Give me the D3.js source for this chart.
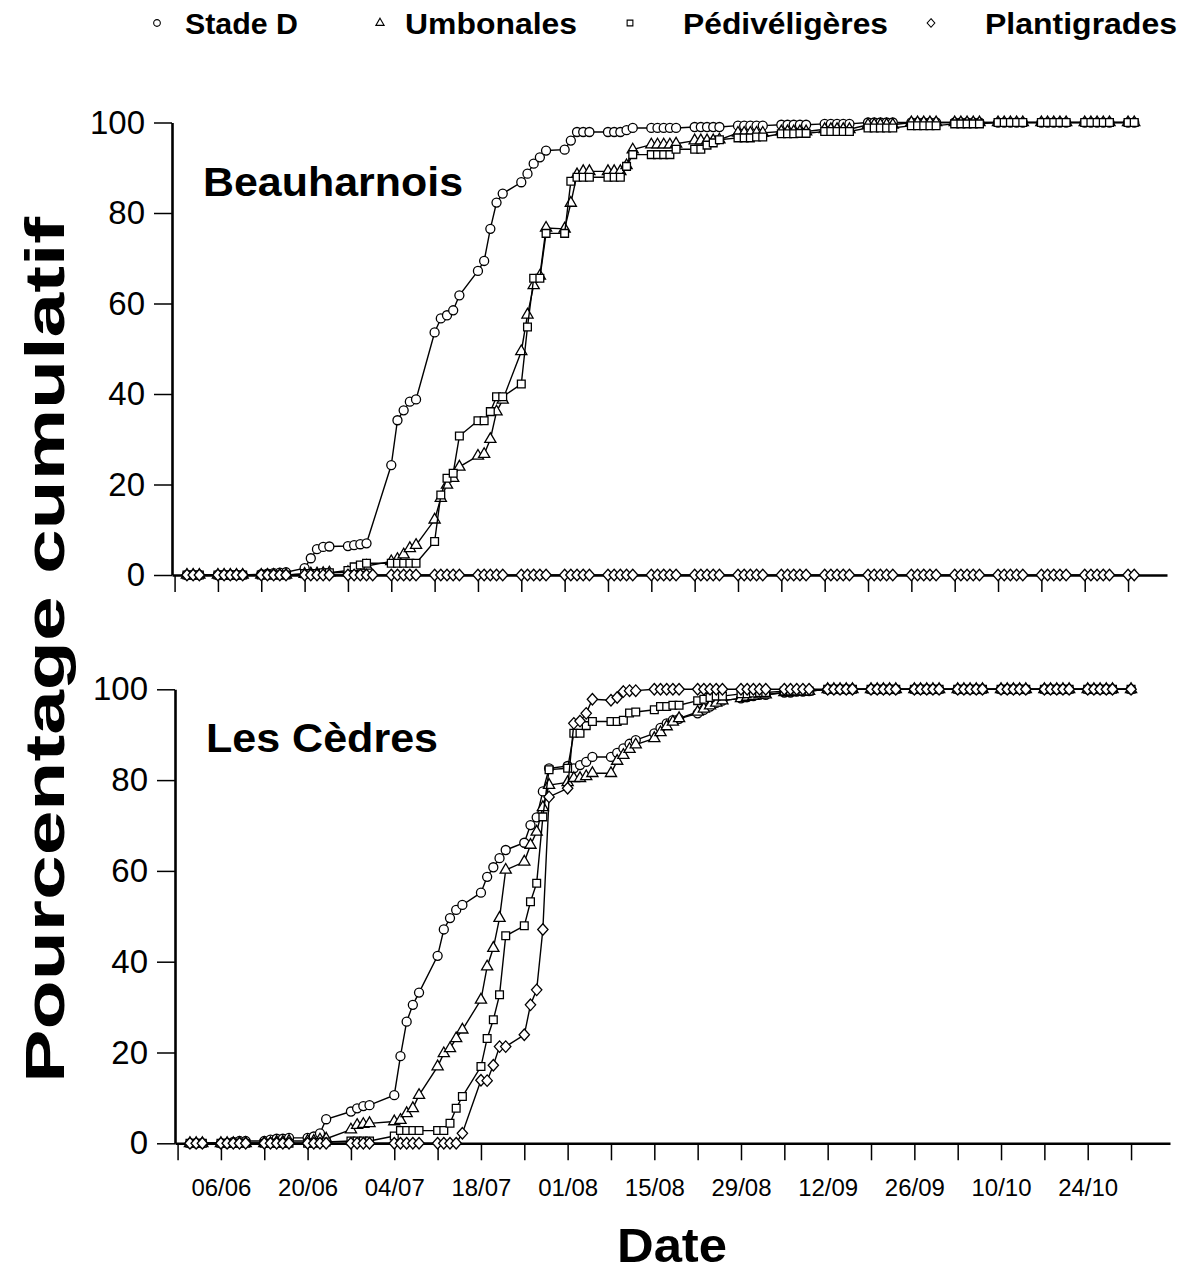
<!DOCTYPE html>
<html>
<head>
<meta charset="utf-8">
<script src="https://cdn.jsdelivr.net/npm/d3@7"></script>
<style>
  body { margin: 0; background: #fff; overflow: hidden; }
  svg { display: block; }
  svg text { font-family: "Liberation Sans", Arial, Helvetica, sans-serif; fill: #000; }
</style>
</head>
<body>
<svg id="chart" width="1188" height="1275"></svg>
<script>
// sampling days (1994, weekdays)
const sampleDates = [
  "01/06","02/06","03/06",
  "06/06","07/06","08/06","09/06","10/06",
  "13/06","14/06","15/06","16/06","17/06",
  "20/06","21/06","22/06","23/06","24/06",
  "27/06","28/06","29/06","30/06","01/07",
  "04/07","05/07","06/07","07/07","08/07",
  "11/07","12/07","13/07","14/07","15/07",
  "18/07","19/07","20/07","21/07","22/07",
  "25/07","26/07","27/07","28/07","29/07",
  "01/08","02/08","03/08","04/08","05/08",
  "08/08","09/08","10/08","11/08","12/08",
  "15/08","16/08","17/08","18/08","19/08",
  "22/08","23/08","24/08","25/08","26/08",
  "29/08","30/08","31/08","01/09","02/09",
  "05/09","06/09","07/09","08/09","09/09",
  "12/09","13/09","14/09","15/09","16/09",
  "19/09","20/09","21/09","22/09","23/09",
  "26/09","27/09","28/09","29/09","30/09",
  "03/10","04/10","05/10","06/10","07/10",
  "10/10","11/10","12/10","13/10","14/10",
  "17/10","18/10","19/10","20/10","21/10",
  "24/10","25/10","26/10","27/10","28/10",
  "31/10","01/11"
];

const seriesNames = ["Stade D", "Umbonales", "Pédivéligères", "Plantigrades"];
const yTicks = [0, 20, 40, 60, 80, 100];

// Beauharnois (cumulative %)
const beauStadeD = [
  0,0,0,
  0,0,0,0,0,
  0.2,0.3,0.4,0.5,0.6,
  1.5,3.7,5.7,6.2,6.3,
  6.4,6.6,6.8,7.0,null,
  24.3,34.2,36.4,38.3,38.8,
  53.6,56.7,57.4,58.5,61.8,
  67.2,69.4,76.5,82.3,84.3,
  86.8,88.7,90.9,92.3,93.8,
  94.0,96.0,97.9,97.9,97.9,
  97.9,97.9,97.9,98.3,98.8,
  98.8,98.8,98.8,98.8,98.8,
  99.0,99.0,99.0,99.0,99.0,
  99.3,99.3,99.3,99.3,99.3,
  99.5,99.5,99.5,99.5,99.5,
  99.7,99.7,99.7,99.7,99.7,
  100,100,100,100,100,
  100,100,100,100,100,
  100,100,100,100,100,
  100,100,100,100,100,
  100,100,100,100,100,
  100,100,100,100,100,
  100,100
];
const beauUmbo = [
  0,0,0,
  0,0,0,0,0,
  0,0,0,0,0,
  0.2,0.3,0.3,0.4,0.5,
  0.6,1.0,1.5,2.0,null,
  3.0,3.5,4.5,5.9,6.6,
  12.2,17.0,19.9,21.4,23.9,
  26.3,26.7,30.0,36.1,38.7,
  49.4,57.5,64.0,66.1,76.7,
  76.5,82.2,88.5,89.2,89.2,
  89.2,89.2,89.2,90.5,94.0,
  95.1,95.1,95.1,95.1,95.3,
  96.0,96.0,96.0,96.0,96.2,
  97.7,97.7,97.7,97.7,97.7,
  98.0,98.0,98.0,98.0,98.0,
  98.5,98.5,98.5,98.5,98.5,
  99.5,99.5,99.5,99.5,99.5,
  100,100,100,100,100,
  100,100,100,100,100,
  100,100,100,100,100,
  100,100,100,100,100,
  100,100,100,100,100,
  100,100
];
const beauPedi = [
  0,0,0,
  0,0,0,0,0,
  0,0,0,0,0,
  0.3,0.3,0.3,0.5,0.5,
  1.0,1.8,2.2,2.6,null,
  2.6,2.6,2.6,2.6,2.6,
  7.4,17.7,21.4,22.5,30.7,
  34.1,34.1,36.1,39.4,39.4,
  42.2,54.8,65.6,65.6,75.5,
  75.5,87.0,87.9,87.9,87.9,
  87.9,87.9,87.9,90.3,92.9,
  92.9,92.9,92.9,92.9,94.1,
  94.1,94.1,95.0,95.5,96.2,
  96.6,96.6,96.6,96.8,96.8,
  97.5,97.5,97.5,97.6,97.6,
  98.0,98.0,98.0,98.0,98.0,
  98.8,98.8,98.8,98.8,98.8,
  99.3,99.3,99.3,99.3,99.3,
  99.7,99.7,99.7,99.7,99.7,
  100,100,100,100,100,
  100,100,100,100,100,
  100,100,100,100,100,
  100,100
];
const beauPlanti = [
  0,0,0,
  0,0,0,0,0,
  0,0,0,0,0,
  0,0,0,0,0,
  0,0,0,0,0,
  0,0,0,0,0,
  0,0,0,0,0,
  0,0,0,0,0,
  0,0,0,0,0,
  0,0,0,0,0,
  0,0,0,0,0,
  0,0,0,0,0,
  0,0,0,0,0,
  0,0,0,0,0,
  0,0,0,0,0,
  0,0,0,0,0,
  0,0,0,0,0,
  0,0,0,0,0,
  0,0,0,0,0,
  0,0,0,0,0,
  0,0,0,0,0,
  0,0,0,0,0,
  0,0
];

// Les Cèdres (cumulative %)
const cedStadeD = [
  0,0,0,
  0,0,0.3,0.5,0.5,
  0.5,0.8,1.0,1.0,1.2,
  1.2,1.5,2.2,5.3,null,
  7.0,7.7,8.2,8.4,null,
  10.6,19.2,26.8,30.5,33.2,
  41.3,47.1,49.6,51.4,52.5,
  55.2,58.7,60.8,62.8,64.6,
  66.2,70.1,71.8,77.5,82.6,
  83.1,82.6,83.3,84.0,85.1,
  85.1,86.0,87.0,88.0,88.8,
  90.3,91.5,92.5,93.2,93.5,
  94.7,95.5,96.2,97.0,97.5,
  98.0,98.3,98.5,98.8,98.8,
  99.3,99.3,99.5,99.5,99.6,
  100,100,100,100,100,
  100,100,100,100,100,
  100,100,100,100,100,
  100,100,100,100,100,
  100,100,100,100,100,
  100,100,100,100,100,
  100,100,100,100,100,
  100,null
];
const cedUmbo = [
  0,0,0,
  0,0,0,0,0,
  0,0,0.3,0.3,0.5,
  0.5,0.5,0.8,1.0,null,
  3.0,4.0,4.2,4.4,null,
  4.8,5.1,6.6,7.7,10.6,
  16.9,19.8,20.9,23.1,25.0,
  31.6,38.9,43.0,49.6,60.2,
  62.0,65.7,68.6,74.0,78.9,
  79.5,80.4,80.4,80.8,81.5,
  81.5,84.2,85.5,86.8,87.8,
  89.2,90.5,91.8,92.8,93.6,
  95.0,95.7,96.4,97.0,97.5,
  98.0,98.3,98.5,98.8,98.8,
  99.3,99.3,99.5,99.5,99.6,
  100,100,100,100,100,
  100,100,100,100,100,
  100,100,100,100,100,
  100,100,100,100,100,
  100,100,100,100,100,
  100,100,100,100,100,
  100,100,100,100,100,
  100,null
];
const cedPedi = [
  0,0,0,
  0,0,0,0,0,
  0,0,0,0,0,
  0,0,0.2,0.3,null,
  0.5,0.5,0.5,0.5,null,
  1.6,2.8,2.8,2.8,2.8,
  2.8,2.8,4.4,7.7,10.3,
  16.9,23.1,27.2,32.7,45.7,
  47.9,53.2,57.3,71.9,82.3,
  82.6,90.3,90.3,92.0,92.9,
  92.9,92.9,93.2,94.8,95.0,
  95.5,96.2,96.2,96.5,96.5,
  97.5,97.8,98.2,98.5,98.5,
  99.0,99.0,99.2,99.3,99.3,
  99.6,99.6,99.6,99.6,99.6,
  100,100,100,100,100,
  100,100,100,100,100,
  100,100,100,100,100,
  100,100,100,100,100,
  100,100,100,100,100,
  100,100,100,100,100,
  100,100,100,100,100,
  100,null
];
const cedPlanti = [
  0,0,0,
  0,0,0,0,0,
  0,0,0,0,0,
  0,0,0,0,null,
  0,0,0,0,null,
  0,0,0,0,0,
  0,0,0,0,2.2,
  13.9,13.8,17.2,21.3,21.3,
  23.9,30.5,33.8,47.1,76.3,
  78.2,92.5,93.0,94.7,97.8,
  97.6,98.2,99.5,99.7,99.7,
  100,100,100,100,100,
  100,100,100,100,100,
  100,100,100,100,100,
  100,100,100,100,100,
  100,100,100,100,100,
  100,100,100,100,100,
  100,100,100,100,100,
  100,100,100,100,100,
  100,100,100,100,100,
  100,100,100,100,100,
  100,100,100,100,100,
  100,null
];

const svg = d3.select("#chart");
const font = "'Liberation Sans', Arial, Helvetica, sans-serif";
const parseDay = d3.timeParse("%d/%m/%Y");
const dates = sampleDates.map(s => parseDay(s + "/1994"));

const x = d3.scaleTime()
  .domain([new Date(1994, 4, 29, 14), new Date(1994, 10, 6, 7)])
  .range([172, 1167]);

const weekTicks = d3.timeDay.range(new Date(1994, 4, 30), new Date(1994, 10, 1), 7);
const fmt = d3.timeFormat("%d/%m");

// marker shapes
const diamondType = {
  draw(ctx, size) {
    const r = Math.sqrt(size / 2);
    ctx.moveTo(0, -r); ctx.lineTo(r * 0.9, 0); ctx.lineTo(0, r); ctx.lineTo(-r * 0.9, 0); ctx.closePath();
  }
};
const symbolTypes = [d3.symbolCircle, d3.symbolTriangle, d3.symbolSquare, diamondType];
const symbolSizes = [64, 54, 60, 66];

const panels = [
  { title: "Beauharnois", y0: 575, y100: 122.5, dx: 0, labels: false,
    series: [beauStadeD, beauUmbo, beauPedi, beauPlanti], titleY: 196, titleW: 260 },
  { title: "Les Cèdres", y0: 1143.3, y100: 689.3, dx: 3, labels: true,
    series: [cedStadeD, cedUmbo, cedPedi, cedPlanti], titleY: 752, titleW: 232 }
];

panels.forEach(p => {
  const g = svg.append("g").attr("transform", `translate(${p.dx},0)`);
  const y = d3.scaleLinear().domain([0, 100]).range([p.y0, p.y100]);

  // x axis
  const xAxis = d3.axisBottom(x)
    .tickValues(weekTicks)
    .tickSize(17)
    .tickSizeOuter(0)
    .tickPadding(19)
    .tickFormat((d, i) => (p.labels && i % 2 === 1) ? fmt(d) : "");
  const gx = g.append("g").attr("transform", `translate(0,${p.y0})`).call(xAxis);
  gx.select(".domain").attr("stroke-width", 2.6);
  gx.selectAll(".tick line").attr("stroke-width", 1.5);
  gx.selectAll("text")
    .attr("font-family", font)
    .attr("font-size", 23)
    .attr("fill", "#000")
    .filter(function() { return this.textContent !== ""; })
    .attr("textLength", 60)
    .attr("lengthAdjust", "spacingAndGlyphs");

  // y axis
  const yAxis = d3.axisLeft(y).tickValues(yTicks).tickSize(18).tickSizeOuter(0).tickPadding(9);
  const gy = g.append("g").attr("transform", `translate(172,0)`).call(yAxis);
  gy.select(".domain").attr("stroke-width", 2.6);
  gy.selectAll(".tick line").attr("stroke-width", 1.5);
  gy.selectAll("text").attr("font-family", font).attr("font-size", 33).attr("fill", "#000");

  // panel title
  g.append("text")
    .attr("x", 203)
    .attr("y", p.titleY)
    .attr("textLength", p.titleW)
    .attr("lengthAdjust", "spacingAndGlyphs")
    .style("font-size", "41px")
    .style("font-weight", "bold")
    .text(p.title);

  const line = d3.line()
    .x(d => x(d.date))
    .y(d => y(d.v));

  p.series.forEach((vals, k) => {
    // missing samples are skipped, the line joins the neighbours
    const pts = vals.map((v, i) => ({ date: dates[i], v: v })).filter(d => d.v !== null);
    g.append("path")
      .datum(pts)
      .attr("fill", "none")
      .attr("stroke", "#000")
      .attr("stroke-width", 1.4)
      .attr("d", line);

    const sym = d3.symbol().type(symbolTypes[k]).size(symbolSizes[k]);
    g.selectAll(null)
      .data(pts)
      .join("path")
      .attr("transform", d => `translate(${x(d.date)},${y(d.v)})`)
      .attr("d", sym)
      .attr("fill", "#fff")
      .attr("stroke", "#000")
      .attr("stroke-width", 1.3);
  });
});

// legend
const legendX = [157, 380, 630, 931];
const legendTextX = [185, 405, 683, 985];
const legendTextW = [113, 172, 205, 192];
const legend = svg.append("g");
seriesNames.forEach((name, k) => {
  legend.append("path")
    .attr("transform", `translate(${legendX[k]},23)`)
    .attr("d", d3.symbol().type(symbolTypes[k]).size(symbolSizes[k] * 0.55)())
    .attr("fill", "#fff")
    .attr("stroke", "#000")
    .attr("stroke-width", 1.1);
  legend.append("text")
    .attr("x", legendTextX[k])
    .attr("y", 34)
    .attr("textLength", legendTextW[k])
    .attr("lengthAdjust", "spacingAndGlyphs")
    .style("font-size", "30px")
    .style("font-weight", "bold")
    .text(name);
});

// axis titles
svg.append("text")
  .attr("x", 672)
  .attr("y", 1262)
  .attr("text-anchor", "middle")
  .attr("textLength", 110)
  .attr("lengthAdjust", "spacingAndGlyphs")
  .style("font-size", "48px")
  .style("font-weight", "bold")
  .text("Date");

svg.append("text")
  .attr("transform", "translate(64,650) rotate(-90)")
  .attr("text-anchor", "middle")
  .attr("textLength", 866)
  .attr("lengthAdjust", "spacingAndGlyphs")
  .style("font-size", "56px")
  .style("font-weight", "bold")
  .text("Pourcentage cumulatif");
</script>
</body>
</html>
